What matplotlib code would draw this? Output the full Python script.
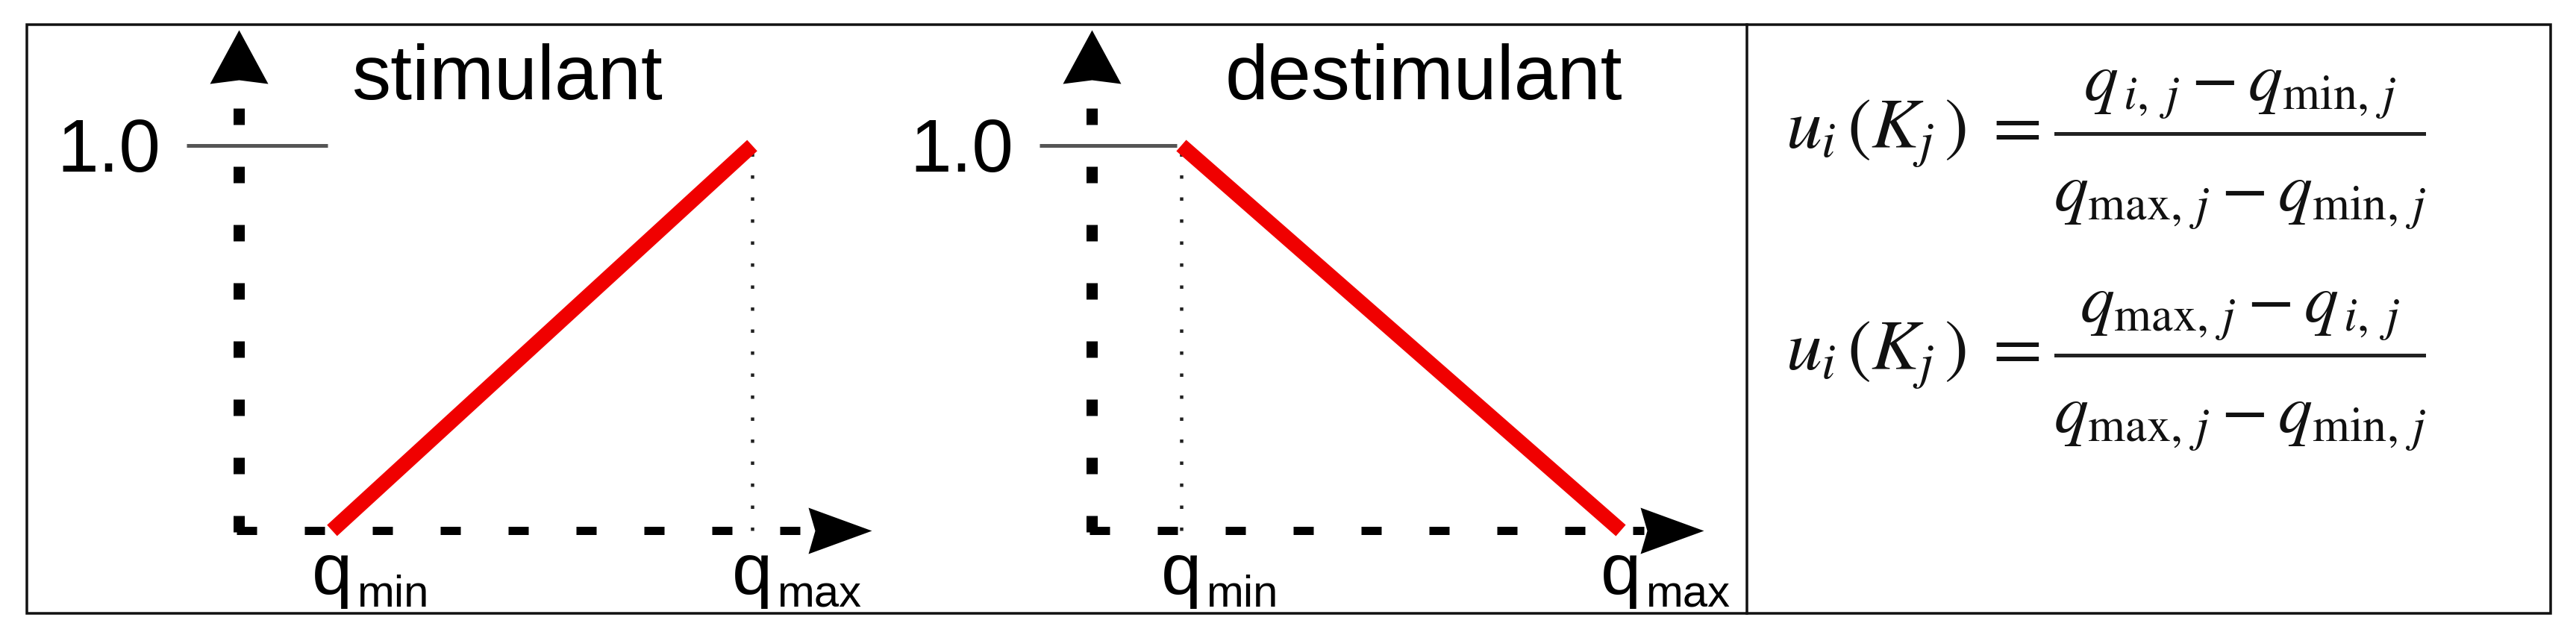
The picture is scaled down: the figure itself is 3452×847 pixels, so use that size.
import matplotlib
matplotlib.use('Agg')
import matplotlib.pyplot as plt
from matplotlib.path import Path
from matplotlib.patches import Rectangle
from matplotlib.lines import Line2D
from matplotlib.transforms import blended_transform_factory

# ---------------- data ----------------
q_positions = [0.0, 1.0]            # q_min, q_max (normalised)
stimulant = [0.0, 1.0]              # utility for a stimulant
destimulant = [1.0, 0.0]            # utility for a destimulant
panel_titles = ['stimulant', 'destimulant']
y_tick_value = 1.0
y_tick_label = '1.0'
x_tick_base = 'q'
x_tick_subs = ['min', 'max']
formula_lhs = [r'$u_{i}\,(K_{j}\,)\;=$', r'$u_{i}\,(K_{j}\,)\;=$']
formula_num = [r'$q_{\,i,\;j} - q_{\mathrm{min},\,j}$',
               r'$q_{\mathrm{max},\,j} - q_{\,i,\;j}$']
formula_den = [r'$q_{\mathrm{max},\,j} - q_{\mathrm{min},\,j}$',
               r'$q_{\mathrm{max},\,j} - q_{\mathrm{min},\,j}$']

# ---------------- layout (pixels) ----------------
W, H, DPI = 3452, 847, 100
PT = 72.0 / DPI
plt.rcParams['font.family'] = ['Liberation Sans', 'DejaVu Sans']
plt.rcParams['mathtext.fontset'] = 'stix'
plt.rcParams['lines.scale_dashes'] = False

fig = plt.figure(figsize=(W / DPI, H / DPI), dpi=DPI)
fig.patch.set_facecolor('white')


def fx(px):
    return px / W


def fy(py):
    return 1 - py / H


AXIS_Y = 711     # pixel row of the x axis
ONE_Y = 195      # pixel row of the value 1.0
TOP_Y = 40       # pixel row of the y arrow tip
panel_layout = [
    dict(yaxis=320, qmin=445, qmax=1008, tip=1168, title_x=471, dotted=1),
    dict(yaxis=1463, qmin=1583, qmax=2172, tip=2283, title_x=1642, dotted=0),
]
series = [stimulant, destimulant]
RED = '#f00000'


def arrow_marker(kind, L, half, concave):
    if kind == 'up':
        verts = [(0, 0), (half, -L), (0, -L + concave), (-half, -L), (0, 0)]
    else:
        verts = [(0, 0), (-L, half), (-L + concave, 0), (-L, -half), (0, 0)]
    codes = [Path.MOVETO, Path.LINETO, Path.LINETO, Path.LINETO, Path.CLOSEPOLY]
    return Path(verts, codes), 2 * max(L, half) * PT


for i, lay in enumerate(panel_layout):
    xs = lay['qmax'] - lay['qmin']
    ys = AXIS_Y - ONE_Y
    dx = lambda p, xs=xs: p / xs
    dy = lambda p, ys=ys: p / ys
    xlo = (lay['yaxis'] - lay['qmin']) / xs
    xhi = (lay['tip'] - lay['qmin']) / xs
    yhi = (AXIS_Y - TOP_Y) / ys
    ax = fig.add_axes([fx(lay['yaxis']), fy(AXIS_Y), (lay['tip'] - lay['yaxis']) / W,
                       (AXIS_Y - TOP_Y) / H])
    ax.set_xlim(xlo, xhi)
    ax.set_ylim(0, yhi)
    ax.axis('off')

    # dashed y axis
    ax.plot([xlo, xlo], [-dy(2), dy(AXIS_Y - 145)], color='black', lw=15 * PT,
            linestyle=(0, (22 * PT, 56 * PT)), dash_capstyle='butt', clip_on=False)
    # dashed x axis
    ax.plot([xlo - dx(3), xhi - dx(80)], [0, 0], color='black', lw=11 * PT,
            linestyle=(0, (27 * PT, 64 * PT)), dash_capstyle='butt', clip_on=False)
    # arrow heads
    p, ms = arrow_marker('up', 72, 39, 5)
    ax.plot([xlo], [yhi], marker=p, markersize=ms, color='black', mew=0, clip_on=False)
    p, ms = arrow_marker('right', 85, 31, 9)
    ax.plot([xhi], [0], marker=p, markersize=ms, color='black', mew=0, clip_on=False)

    # 1.0 reference line and label
    ax.plot([xlo - dx(70), q_positions[0] - dx(6)], [y_tick_value, y_tick_value],
            color='#555555', lw=5 * PT, solid_capstyle='butt', clip_on=False)
    ax.text(xlo - dx(105), y_tick_value - dy(35), y_tick_label, ha='right', va='baseline',
            fontsize=72, color='black')

    # dotted guide
    qd = q_positions[lay['dotted']]
    ax.plot([qd, qd], [0, y_tick_value], color='#222222', lw=4.5 * PT,
            linestyle=(0, (4.5 * PT, 25 * PT)), dash_capstyle='butt', clip_on=False)

    # red utility line
    ax.plot(q_positions, series[i], color=RED, lw=20 * PT, solid_capstyle='butt',
            clip_on=False, zorder=5)

    # x tick labels q_min, q_max
    tr = blended_transform_factory(ax.transData, fig.transFigure)
    for q, sub in zip(q_positions, x_tick_subs):
        ax.text(q, fy(796), x_tick_base, transform=tr, ha='center', va='baseline',
                fontsize=70, color='black')
        ax.text(q + dx(33), fy(813), sub, transform=tr, ha='left', va='baseline',
                fontsize=43, color='black')

    # title
    fig.text(fx(lay['title_x']), fy(133), panel_titles[i], ha='left', va='baseline',
             fontsize=75, color='black')

# formulas, built as lhs + numerator / bar / denominator
BAR_X0, BAR_X1 = 2755, 3248
bar_rows = [179, 476]
FS = 66
for k, bar_y in enumerate(bar_rows):
    cx = (BAR_X0 + BAR_X1) / 2
    fig.text(fx(2393), fy(bar_y + 19), formula_lhs[k], ha='left', va='baseline',
             fontsize=69, color='#111111', math_fontfamily='stix')
    fig.text(fx(cx), fy(bar_y - 45), formula_num[k], ha='center', va='baseline',
             fontsize=FS, color='#111111', math_fontfamily='stix')
    fig.text(fx(cx), fy(bar_y + 103), formula_den[k], ha='center', va='baseline',
             fontsize=FS, color='#111111', math_fontfamily='stix')
    fig.add_artist(Line2D([fx(BAR_X0), fx(BAR_X1)], [fy(bar_y), fy(bar_y)],
                          transform=fig.transFigure, color='#222222', lw=5 * PT))

# frame and divider
fig.add_artist(Rectangle((fx(36), fy(822)), fx(3418) - fx(36), fy(33) - fy(822),
                         transform=fig.transFigure, fill=False, edgecolor='#111111',
                         lw=3.5 * PT))
fig.add_artist(Line2D([fx(2341), fx(2341)], [fy(822), fy(33)], transform=fig.transFigure,
                      color='#111111', lw=3.5 * PT))

fig.savefig('out.png', dpi=DPI, facecolor='white')
